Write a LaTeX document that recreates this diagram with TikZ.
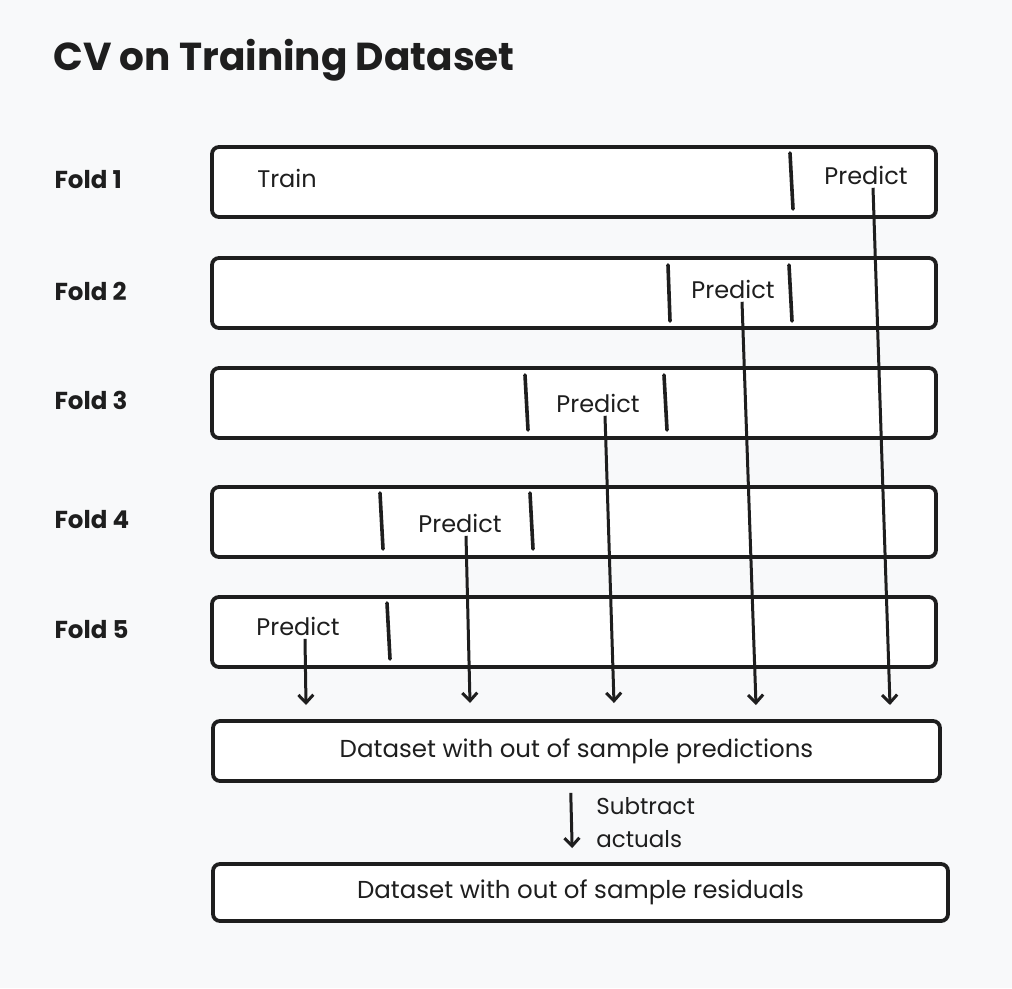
\documentclass[tikz,border=0pt]{standalone}
\usepackage{fontspec}
\setmainfont{Poppins}
\usetikzlibrary{arrows.meta, positioning}
\definecolor{ink}{HTML}{1E1E1E}
\definecolor{paper}{HTML}{F8F9FA}
\tikzstyle{fold} = [
  rectangle,
  rounded corners=7pt,
  minimum width=724pt,
  minimum height=70pt,
  draw=ink,
  line width=3.8pt,
  fill=white
]
\tikzstyle{dataset} = [
  fold,
  minimum height=60pt,
  text=ink,
  font=\fontsize{24.5}{28}\selectfont
]
\tikzstyle{foldname} = [anchor=west, text=ink, font=\fontsize{24.5}{28}\selectfont\bfseries]
\tikzstyle{predict} = [text=ink, font=\fontsize{24}{28}\selectfont]
\tikzstyle{divider} = [ink, line width=3.6pt, line cap=round]
\tikzstyle{arrow} = [ink, line width=3pt, -{Straight Barb[length=8pt,width=15pt]}]

\begin{document}
\begin{tikzpicture}[x=1pt, y=-1pt]
    \fill[paper] (0,0) rectangle (1012,988);
    \useasboundingbox (0,0) rectangle (1012,988);

    \node (title) [anchor=west, text=ink, font=\fontsize{39}{44}\selectfont\bfseries] at (50,60) {CV on Training Dataset};

    \node (fold-1) [fold] at (574,182) {};
    \node (fold-2) [fold] at (574,293) {};
    \node (fold-3) [fold] at (574,403) {};
    \node (fold-4) [fold] at (574,522) {};
    \node (fold-5) [fold] at (574,632) {};

    \node (name-1) [foldname] at (51,180) {Fold 1};
    \node (name-2) [foldname] at (51,291) {Fold 2};
    \node (name-3) [foldname] at (51,400) {Fold 3};
    \node (name-4) [foldname] at (51,520) {Fold 4};
    \node (name-5) [foldname] at (51,630) {Fold 5};

    \node (train) [predict] at (287,178) {Train};
    \node (predict-1) [predict] at (866,175) {Predict};
    \node (predict-2) [predict] at (733,289) {Predict};
    \node (predict-3) [predict] at (598,403) {Predict};
    \node (predict-4) [predict] at (460,523) {Predict};
    \node (predict-5) [predict] at (298,626) {Predict};

    % fold borders
    \draw [divider] (790,153) -- (793,209);
    \draw [divider] (668,265) -- (670,321);
    \draw [divider] (789,265) -- (792,321);
    \draw [divider] (525,375) -- (528,430);
    \draw [divider] (664,375) -- (667,430);
    \draw [divider] (380,493) -- (383,549);
    \draw [divider] (530,493) -- (533,549);
    \draw [divider] (387,603) -- (390,659);

    \node (ds-pred) [dataset, minimum width=727pt] at (576.5,751) {Dataset with out of sample predictions};
    \node (ds-res) [dataset, minimum width=735pt, minimum height=57pt] at (580.5,892.5) {Dataset with out of sample residuals};

    \coordinate (end-1) at (890,705);
    \coordinate (end-2) at (756,705);
    \coordinate (end-3) at (614,703);
    \coordinate (end-4) at (470,703);
    \coordinate (end-5) at (306,705);

    \draw [arrow] ([xshift=7pt]predict-1.south) -- (end-1);
    \draw [arrow] ([xshift=9pt]predict-2.south) -- (end-2);
    \draw [arrow] ([xshift=7pt]predict-3.south) -- (end-3);
    \draw [arrow] ([xshift=6pt]predict-4.south) -- (end-4);
    \draw [arrow] ([xshift=7pt]predict-5.south) -- (end-5);

    \draw [arrow, shorten <=10pt, shorten >=14pt] ([xshift=-6pt]ds-pred.south) -- node[anchor=west, xshift=20pt, text=ink, align=left, font=\fontsize{23}{33}\selectfont] {Subtract\\actuals} ([xshift=-8pt]ds-res.north);
\end{tikzpicture}
\end{document}
